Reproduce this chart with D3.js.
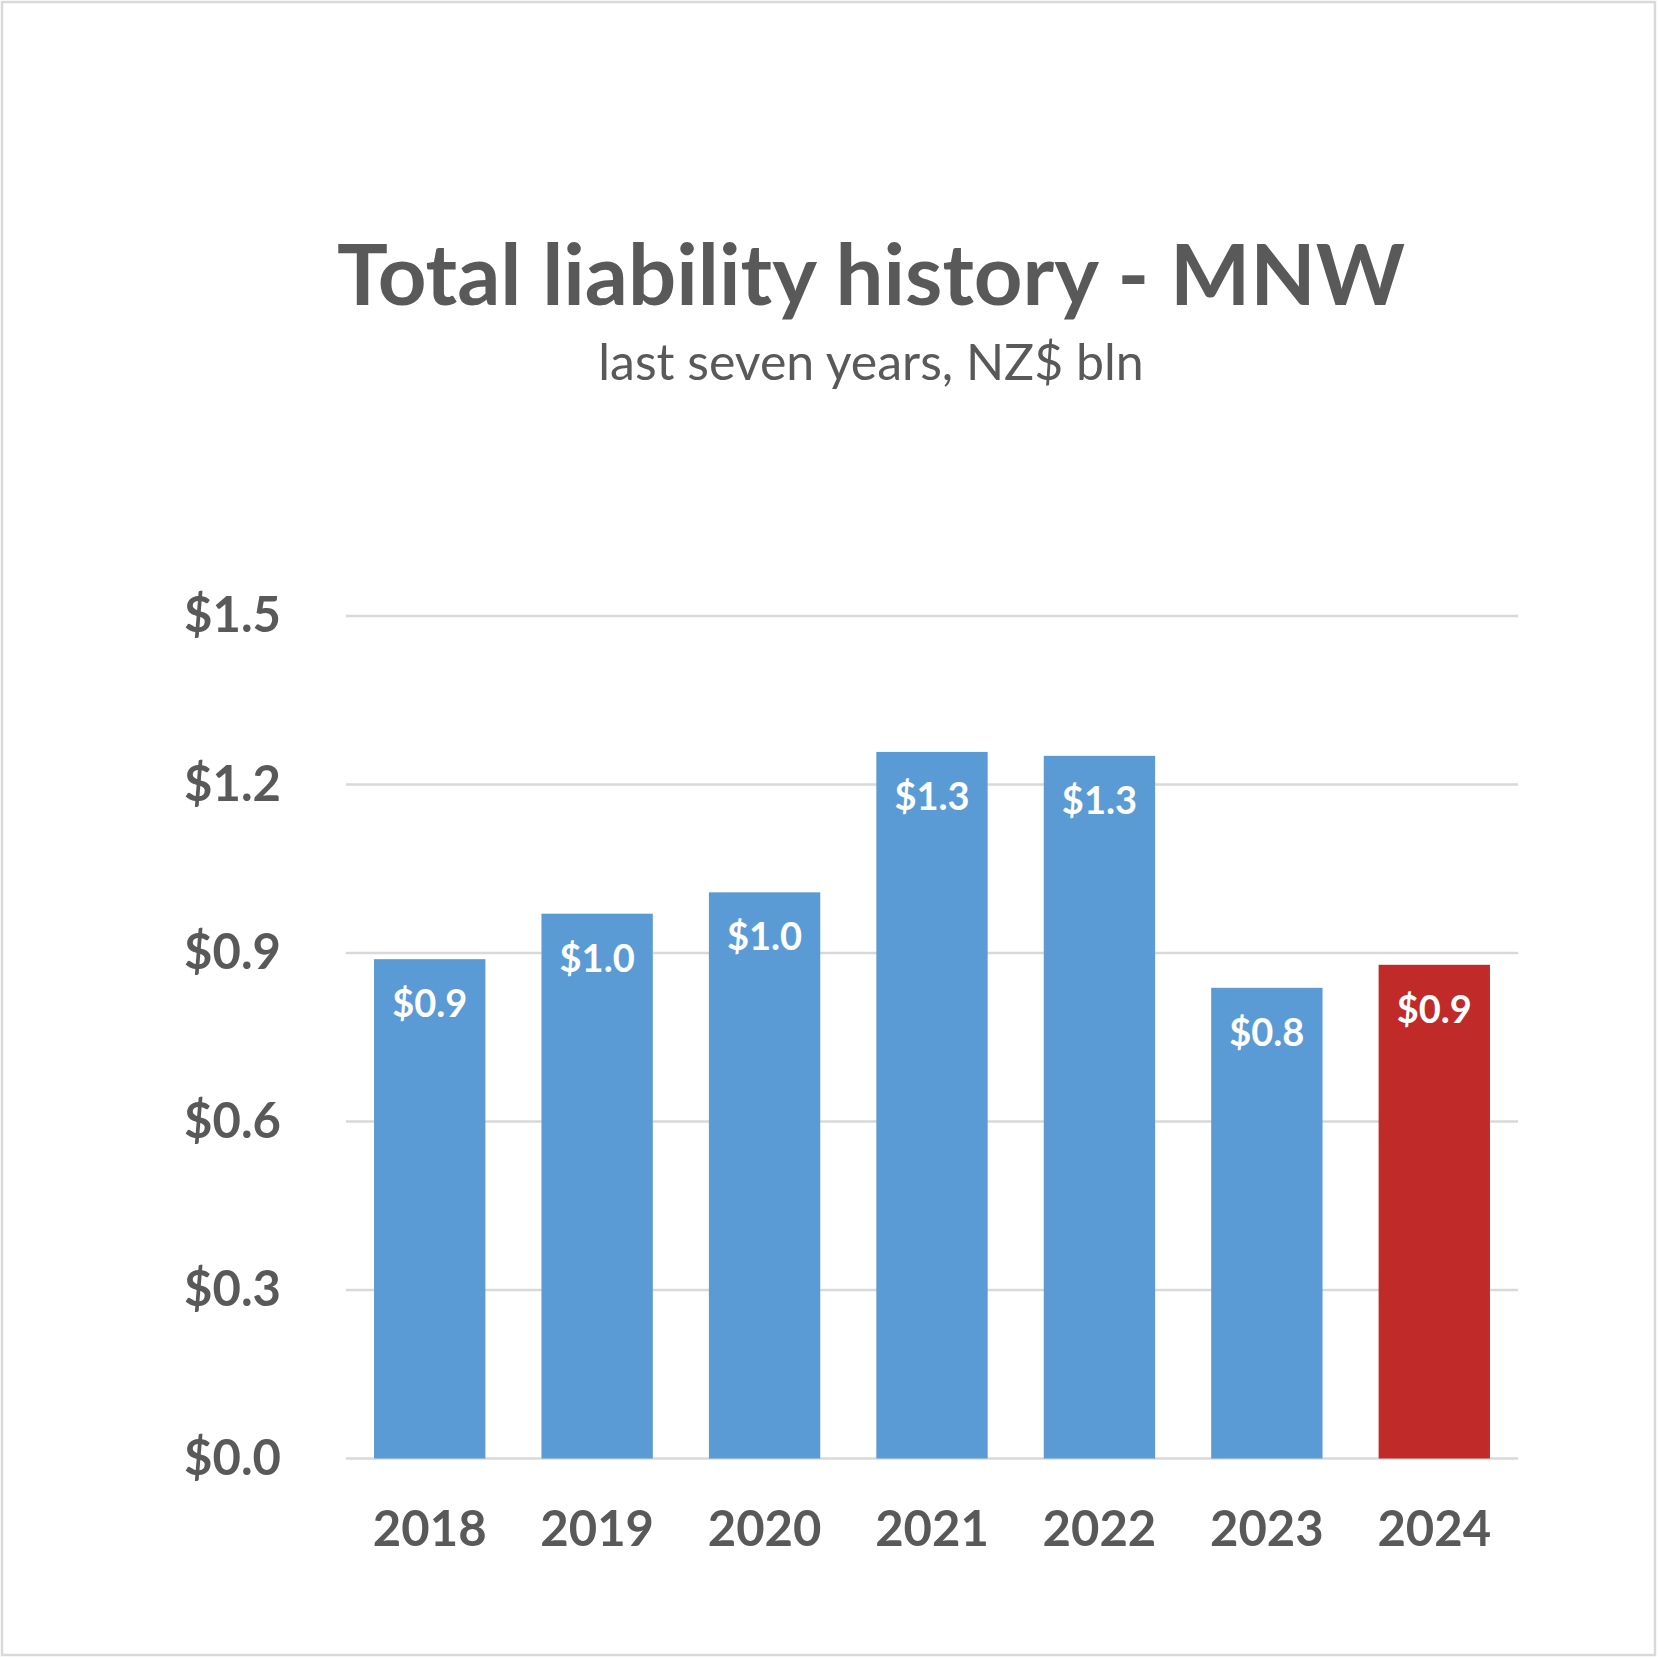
<!DOCTYPE html>
<html>
<head>
<meta charset="utf-8">
<script src="https://cdn.jsdelivr.net/npm/d3@7"></script>
<style>
  html, body { margin: 0; padding: 0; background: #fff; }
  text { font-family: Lato, "Noto Sans", sans-serif; }
</style>
</head>
<body>
<div id="chart"></div>
<script>
const years = ['2018', '2019', '2020', '2021', '2022', '2023', '2024']
const liability = [0.889, 0.970, 1.008, 1.258, 1.251, 0.838, 0.879]
const yTicks = [0, 0.3, 0.6, 0.9, 1.2, 1.5]
const highlightYear = '2024'

const width = 1659
const height = 1659
const textColor = '#595959'

const svg = d3.select('#chart')
    .append('svg')
    .attr('width', width)
    .attr('height', height)

// outer frame
svg.append('rect')
    .attr('x', 2).attr('y', 2)
    .attr('width', width - 6).attr('height', height - 6)
    .attr('fill', '#fff')
    .attr('stroke', '#d9d9d9')
    .attr('stroke-width', 2.5)

svg.append('text')
    .attr('x', 871).attr('y', 305)
    .attr('text-anchor', 'middle')
    .attr('font-size', 85)
    .attr('font-weight', 700)
    .attr('fill', textColor)
    .text('Total liability history - MNW')

svg.append('text')
    .attr('x', 871).attr('y', 380)
    .attr('text-anchor', 'middle')
    .attr('font-size', 50)
    .attr('fill', textColor)
    .text('last seven years, NZ$ bln')

const x = d3.scaleBand()
    .domain(years)
    .range([346, 1518])
    .paddingInner(0.335)
    .paddingOuter(0.1675)

const y = d3.scaleLinear()
    .domain([0, 1.5])
    .range([1458.5, 616])

// gridlines
svg.append('g')
    .selectAll('line')
    .data(yTicks)
    .enter().append('line')
    .attr('x1', 346).attr('x2', 1518)
    .attr('y1', (d) => y(d)).attr('y2', (d) => y(d))
    .attr('stroke', '#d9d9d9')
    .attr('stroke-width', 2.5)

const yAxis = svg.append('g')
    .attr('transform', 'translate(281,0)')
    .call(d3.axisLeft(y).tickValues(yTicks).tickSize(0).tickPadding(0)
        .tickFormat((d) => '$' + d3.format('.1f')(d)))
yAxis.select('.domain').remove()
yAxis.selectAll('text')
    .attr('font-family', 'Lato, sans-serif')
    .attr('font-size', 49)
    .attr('font-weight', 700)
    .attr('fill', textColor)

const xAxis = svg.append('g')
    .attr('transform', 'translate(0,1458.5)')
    .call(d3.axisBottom(x).tickSize(0).tickPadding(0))
xAxis.select('.domain').remove()
xAxis.selectAll('text')
    .attr('dy', null)
    .attr('y', 87)
    .attr('font-family', 'Lato, sans-serif')
    .attr('font-size', 49)
    .attr('font-weight', 700)
    .attr('fill', textColor)

const data = years.map((year, i) => ({ year, value: liability[i] }))

svg.append('g')
    .selectAll('rect.bar')
    .data(data)
    .enter().append('rect')
    .attr('class', 'bar')
    .attr('x', (d) => x(d.year))
    .attr('y', (d) => y(d.value))
    .attr('width', x.bandwidth())
    .attr('height', (d) => y(0) - y(d.value))
    .attr('fill', (d) => d.year === highlightYear ? '#c02a28' : '#5b9bd5')

svg.append('g')
    .selectAll('text')
    .data(data)
    .enter().append('text')
    .attr('x', (d) => x(d.year) + x.bandwidth() / 2)
    .attr('y', (d) => y(d.value) + 58)
    .attr('text-anchor', 'middle')
    .attr('font-size', 38)
    .attr('font-weight', 700)
    .attr('fill', '#fff')
    .text((d) => '$' + d3.format('.1f')(d.value))
</script>
</body>
</html>
